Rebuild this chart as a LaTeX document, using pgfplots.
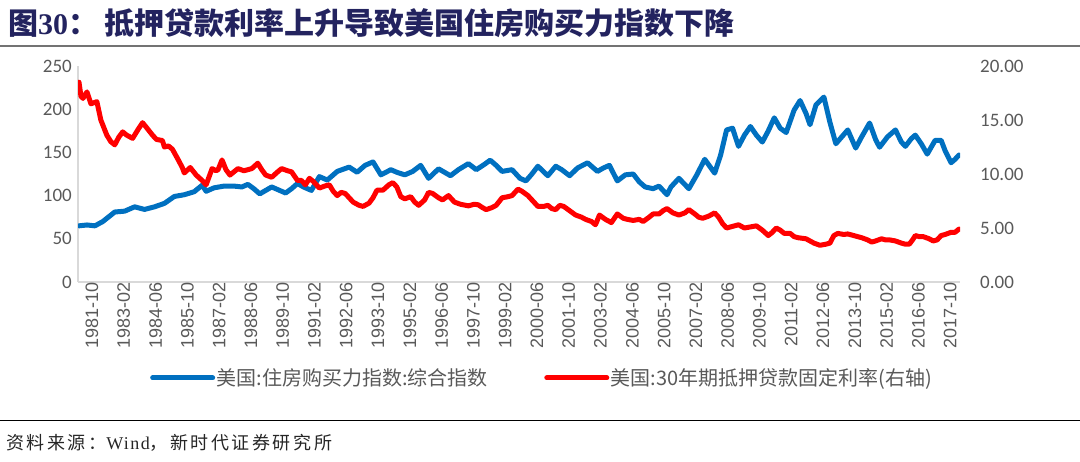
\documentclass[border=0pt]{standalone}
\usepackage{pgfplots}
\pgfplotsset{compat=1.18}
\usepackage{fontspec}
\setmainfont{Liberation Sans}
\newfontfamily\cjk{Noto Sans CJK SC}
\newfontfamily\cjksp[LetterSpace=14]{Noto Sans CJK SC}
\newfontfamily\carlito{Carlito}
\newfontfamily\tnr{Liberation Serif}
\newfontfamily\tnrsp[LetterSpace=8]{Liberation Serif}
\definecolor{titlecol}{HTML}{23235F}
\definecolor{lblue}{HTML}{0070C0}
\definecolor{lred}{HTML}{FF0000}
\definecolor{tickgray}{HTML}{595959}
\definecolor{axgray}{HTML}{D9D9D9}
\pgfplotsset{
  base/.style={
    at={(78pt,179pt)}, anchor=south west, scale only axis,
    width=882pt, height=216pt, xmin=-0.5, xmax=443.5,
    major tick length=0pt,
    tick label style={text=tickgray},
    /pgf/number format/assume math mode=true,
  },
  ser/.style={line width=5pt, line join=round, line cap=round},
}
\begin{document}
\begin{tikzpicture}[x=1pt,y=1pt]
\useasboundingbox (0,0) rectangle (1080,461);
\node[anchor=west,inner sep=0pt,text=titlecol,font=\fontsize{30}{32}\selectfont\cjk\bfseries] at (8,438) {图{\tnr\bfseries 30}：\hspace{6pt}抵押贷款利率上升导致美国住房购买力指数下降};
\draw[line width=2pt,color=black!55] (0,415) -- (1080,415);

\begin{axis}[base,
  ymin=0, ymax=250,
  axis x line*=bottom, axis y line*=left,
  axis line style={draw=axgray, line width=1.5pt},
  xtick={0,16,...,432},
  xticklabels={1981-10,1983-02,1984-06,1985-10,1987-02,1988-06,1989-10,1991-02,1992-06,1993-10,1995-02,1996-06,1997-10,1999-02,2000-06,2001-10,2003-02,2004-06,2005-10,2007-02,2008-06,2009-10,2011-02,2012-06,2013-10,2015-02,2016-06,2017-10},
  ytick={0,50,...,250},
  xticklabel style={rotate=90, anchor=east, font=\fontsize{18}{18}\selectfont, inner sep=0pt, yshift=-13pt},
  yticklabel style={font=\fontsize{19}{19}\selectfont\carlito, anchor=east, inner sep=0pt, xshift=-6pt},
]
\addplot[ser, color=lblue] coordinates {
(0,65)(4,66)(8,65)(12,70)(18,81)(23,82)(28,87)(33,84)(38,87)(43,91)(48,99)(53,101)(58,104.5)(62,112)(64,105)(68,109)(73,111)(78,111)(82,110)(85,113)(88,108)(91,102)(94,106)(97,110)(100,107)(104,103)(107,108)(110,114)(113,110)(117,106)(121,122)(125,118)(130,128)(136,133)(140,127)(144,135)(148,139)(152,124)(157,130)(160,127)(164,124)(168,128)(172,135)(176,120)(181,131)(187,123)(191,130)(196,137)(200,130)(204,136)(207,141)(210,135)(213,128)(218,130)(222,120)(225,117)(228,125)(231,134)(236,123)(240,134)(243,130)(247,123)(251,132)(256,138)(261,128)(264,132)(267,135)(271,117)(275,124)(279,125)(282,116)(285,110)(289,108)(292,111)(296,101)(298,110)(302,120)(307,108)(311,124)(315,142)(320,126)(323,147)(326,176)(329,178)(332,157)(335,170)(338,180)(341,170)(344,162)(347,175)(350,190)(353,178)(356,173)(360,199)(363,210)(366,195)(368,182)(371,205)(375,214)(378,185)(381,160)(384,168)(387,176)(391,155)(394,168)(398,184)(401,165)(403,156)(407,168)(411,176)(414,162)(416,157)(419,166)(421,170)(424,160)(427,148)(431,164)(434,164)(436,152)(439,138)(441,142)(443,147)
};
\end{axis}

\begin{axis}[base,
  ymin=0, ymax=20,
  axis x line=none, axis y line*=right,
  y axis line style={draw=none},
  xtick=\empty,
  ytick={0,5,...,20},
  yticklabel style={font=\fontsize{19}{19}\selectfont\carlito, anchor=west, inner sep=0pt, xshift=20pt,
    /pgf/number format/.cd, fixed, fixed zerofill, precision=2},
  legend columns=2,
  legend style={at={(0.0816,-0.444)}, anchor=west, draw=none, fill=none,
    font=\fontsize{20}{21}\selectfont\cjk, text=tickgray, inner sep=0pt,
    nodes={inner sep=1.5pt},
    /tikz/every even column/.append style={column sep=55pt}},
  legend image code/.code={\draw[#1] (0pt,0pt) -- (60pt,0pt);},
]
\addlegendimage{ser, color=lblue}
\addlegendentry{美国:住房购买力指数:综合指数}
\addplot[ser, color=lred] coordinates {
(0,18.5)(1,17.2)(2,17.0)(4,17.6)(6,16.5)(9,16.7)(11,15.0)(14,13.6)(16,13.0)(18,12.7)(20,13.4)(22,13.9)(24,13.6)(27,13.3)(30,14.2)(32,14.75)(34,14.3)(37,13.6)(39,13.2)(42,13.1)(43,12.5)(45,12.6)(47,12.3)(50,11.3)(52,10.6)(53,10.1)(56,10.6)(59,9.9)(62,9.4)(64,9.0)(67,10.5)(69,10.3)(70,10.4)(72,11.3)(74,10.4)(76,9.9)(78,10.2)(80,10.5)(83,10.3)(87,10.5)(90,11.0)(92,10.4)(94,9.9)(97,9.7)(100,10.2)(102,10.5)(105,10.3)(107,10.2)(110,9.4)(112,9.4)(114,9.0)(116,9.6)(118,9.3)(121,8.7)(124,8.9)(126,9.0)(128,8.4)(130,8.0)(132,8.3)(134,8.2)(136,7.8)(138,7.4)(141,7.1)(143,7.0)(146,7.3)(148,7.8)(150,8.5)(153,8.5)(156,9.0)(158,9.2)(160,8.8)(162,7.9)(164,7.7)(167,7.9)(169,7.4)(171,7.1)(174,7.6)(176,8.3)(178,8.2)(181,7.8)(183,7.6)(186,8.0)(189,7.4)(192,7.2)(196,7.05)(199,7.2)(201,7.15)(203,6.9)(205,6.7)(208,6.9)(210,7.1)(213,7.8)(216,7.9)(218,8.0)(221,8.6)(223,8.4)(226,8.0)(228,7.6)(231,7.0)(234,7.0)(236,7.1)(238,6.8)(240,6.7)(242,7.1)(244,7.0)(247,6.6)(250,6.2)(253,6.0)(255,5.8)(258,5.6)(260,5.3)(262,6.2)(265,5.8)(268,5.5)(271,6.3)(274,5.9)(276,5.8)(279,5.7)(282,5.8)(284,5.6)(287,6.0)(289,6.3)(292,6.3)(294,6.6)(296,6.8)(299,6.4)(302,6.2)(305,6.4)(307,6.7)(310,6.3)(312,6.0)(314,5.9)(317,6.1)(320,6.4)(322,6.0)(324,5.4)(326,5.0)(328,5.1)(330,5.2)(332,5.3)(335,5.0)(338,5.1)(341,5.2)(344,4.8)(347,4.3)(349,4.6)(351,5.0)(353,4.8)(355,4.5)(358,4.5)(360,4.2)(362,4.1)(366,4.0)(368,3.8)(370,3.6)(373,3.4)(376,3.5)(378,3.6)(380,4.3)(382,4.5)(385,4.4)(387,4.45)(390,4.3)(392,4.2)(394,4.1)(397,3.9)(399,3.7)(401,3.8)(404,4.0)(406,3.9)(408,3.9)(411,3.8)(414,3.6)(416,3.5)(418,3.5)(420,4.0)(421,4.3)(423,4.2)(425,4.2)(428,4.0)(430,3.8)(432,3.9)(434,4.3)(436,4.4)(439,4.6)(441,4.6)(443,4.9)
};
\addlegendentry{美国:30年期抵押贷款固定利率(右轴)}
\end{axis}

\draw[line width=1.5pt,color=black] (0,40.5) -- (1080,40.5);
\node[anchor=west,inner sep=0pt,text=black!85,font=\fontsize{18}{20}\selectfont\cjksp] at (6,18) {资料来源：{\tnrsp Wind}，新时代证券研究所};
\end{tikzpicture}
\end{document}
